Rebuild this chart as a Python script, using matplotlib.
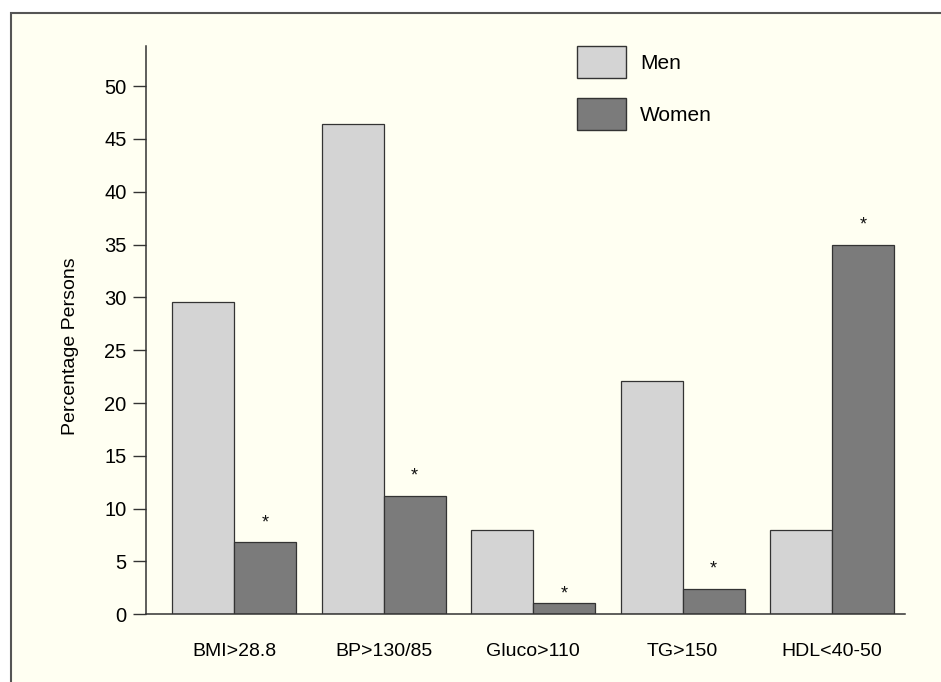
import matplotlib
matplotlib.use("Agg")
import matplotlib.pyplot as plt
from matplotlib.patches import Rectangle, Patch
import numpy as np

plt.rcParams['font.family'] = ['Liberation Sans', 'DejaVu Sans']

categories = ["BMI>28.8", "BP>130/85", "Gluco>110", "TG>150", "HDL<40-50"]
men = [29.6, 46.4, 8.0, 22.1, 8.0]
women = [6.8, 11.2, 1.1, 2.4, 35.0]
significant = [True, True, True, True, True]
star_offset = [1.46, 1.5, 0.44, 1.5, 1.4]
yticks = [0, 5, 10, 15, 20, 25, 30, 35, 40, 45, 50]

W, H = 941, 682
fig = plt.figure(figsize=(W / 100, H / 100), dpi=100)
fig.patch.set_facecolor('white')

# outer frame with pale background
frame = Rectangle((10.5 / W, -0.2), 1.5, 1 - 13 / H + 0.2, transform=fig.transFigure,
                  facecolor='#FFFFF2', edgecolor='#555555', linewidth=1.5, zorder=0)
fig.add_artist(frame)

left, right = 146 / W, 905 / W
bottom, top = (H - 614.3) / H, (H - 46) / H
ax = fig.add_axes([left, bottom, right - left, top - bottom])
ax.set_facecolor('none')

x = np.arange(len(categories))
w = 0.415
edge = '#333333'
ax.bar(x - w / 2, men, w, color='#D4D4D4', edgecolor=edge, linewidth=0.9, label='Men')
ax.bar(x + w / 2, women, w, color='#7B7B7B', edgecolor=edge, linewidth=0.9, label='Women')

for xi, v, s, off in zip(x, women, significant, star_offset):
    if s:
        ax.text(xi + w / 2, v + off, '*', ha='center', va='baseline', fontsize=13, color='#111111')

ax.set_xlim(-0.589, 4.488)
ax.set_ylim(0, 53.8)
ax.set_yticks(yticks)
ax.set_xticks(x)
ax.set_xticklabels(categories, fontsize=14)
ax.tick_params(axis='x', length=0, pad=21)
ax.tick_params(axis='y', length=9.4, width=1.0, color=edge, pad=4.5, labelsize=14.5)
for sp in ['top', 'right']:
    ax.spines[sp].set_visible(False)
for sp in ['left', 'bottom']:
    ax.spines[sp].set_color(edge)
    ax.spines[sp].set_linewidth(1.1)

ax.set_ylabel('Percentage Persons', fontsize=14)
ax.yaxis.label.set_va('center')
ax.yaxis.set_label_coords((70.5 - 146) / (905 - 146), (614.3 - 346.5) / (614.3 - 46))

handles = [Patch(facecolor='#D4D4D4', edgecolor=edge, linewidth=1.0),
           Patch(facecolor='#7B7B7B', edgecolor=edge, linewidth=1.0)]
fs = 15
px = fs * 100 / 72
hh = (32 / px - 0.245) / 0.65
ax.legend(handles, ['Men', 'Women'], loc='upper left',
          bbox_to_anchor=(577 / W, 1 - 46 / H), bbox_transform=fig.transFigure,
          frameon=False, fontsize=fs, borderpad=0, borderaxespad=0,
          handlelength=49 / px, handleheight=hh, labelspacing=20 / px,
          handletextpad=14 / px)

fig.savefig('out.png', dpi=100)
